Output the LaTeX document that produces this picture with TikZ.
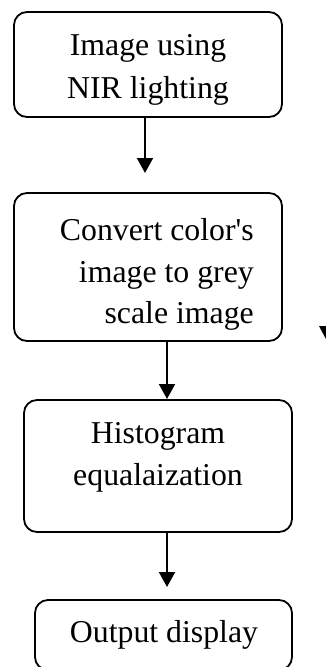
\documentclass[tikz,border=0pt]{standalone}
\usepackage{fontspec}
\setmainfont{Liberation Serif}
\usetikzlibrary{arrows.meta}

\tikzset{
  stepbox/.style={draw=black, line width=1.8pt, rounded corners=13pt,
    inner sep=0pt, outer sep=0pt},
  label text/.style={inner sep=0pt, font=\fontsize{31.8}{43}\selectfont},
  flow/.style={line width=2pt, -{Triangle[width=16pt,length=15pt]}},
}

\begin{document}
\begin{tikzpicture}[x=1pt, y=-1pt]
  \useasboundingbox (0,0) rectangle (326,667);
  \clip (0,0) rectangle (326,667);

  % boxes
  \node[stepbox, minimum width=268pt, minimum height=105pt] (b1) at (148,64.5) {};
  \node[stepbox, minimum width=268pt, minimum height=148pt] (b2) at (148,267) {};
  \node[stepbox, minimum width=268pt, minimum height=132pt] (b3) at (158,466) {};
  \node[stepbox, minimum width=257pt, minimum height=70pt] (b4) at (163.5,635) {};

  % box texts
  \node[label text, anchor=base] (t1a) at (148,55) {Image using};
  \node[label text, anchor=base] (t1b) at (148,98) {NIR lighting};

  \node[label text, anchor=base east] (t2a) at (254,240) {Convert color\textquotesingle s};
  \node[label text, anchor=base east] (t2b) at (254,282) {image to grey};
  \node[label text, anchor=base east] (t2c) at (254,323.5) {scale image};

  \node[label text, anchor=base] (t3a) at (158,443) {Histogram};
  \node[label text, anchor=base] (t3b) at (158,485) {equalaization};

  \node[label text, anchor=base] (t4) at (164,642) {Output display};

  % arrow ends
  \coordinate (e1) at (145,173);
  \coordinate (e2) at (167,399);
  \coordinate (e3) at (167,587);

  % connectors
  \draw[flow] (b1.south -| e1) -- (e1);
  \draw[flow] (b2.south -| e2) -- (e2);
  \draw[flow] (b3.south -| e3) -- (e3);

  % arrowhead at the right edge
  \fill (319,326) -- (335,326) -- (327,341) -- cycle;
\end{tikzpicture}
\end{document}
